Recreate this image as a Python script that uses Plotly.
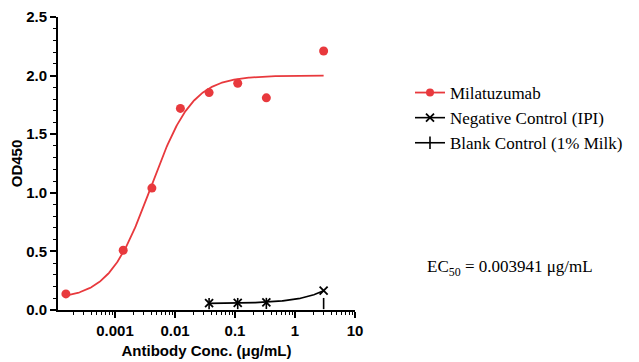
import numpy as np
import plotly.graph_objects as go

# Data (μg/mL, OD450)
mila_x = [0.000152, 0.00137, 0.00412, 0.0123, 0.037, 0.111, 0.333, 3.0]
mila_y = [0.137, 0.51, 1.04, 1.72, 1.855, 1.935, 1.81, 2.21]

neg_x = [0.037, 0.111, 0.333, 3.0]
neg_y = [0.058, 0.060, 0.065, 0.165]

blank_x = [0.037, 0.111, 0.333, 3.0]
blank_y = [0.055, 0.055, 0.056, 0.055]

# 4PL fit parameters for Milatuzumab
fit_bottom = 0.09
fit_top = 2.0
fit_ec50 = 0.003941
fit_hill = 1.25

RED = "#e8393d"
SERIF = "Liberation Serif, Times New Roman, serif"
SANS = "Liberation Sans, Arial, sans-serif"

def fourpl(x):
    x = np.asarray(x)
    return fit_bottom + (fit_top - fit_bottom) / (1 + (fit_ec50 / x) ** fit_hill)

cx = np.logspace(np.log10(min(mila_x)), np.log10(max(mila_x)), 300)
cy = fourpl(cx)

# simple linear fit for negative control
pn = np.polyfit(neg_x, neg_y, 1)
nx = np.logspace(np.log10(min(neg_x)), np.log10(max(neg_x)), 200)
ny = np.polyval(pn, nx)

fig = go.Figure()

fig.add_trace(go.Scatter(x=nx, y=ny, mode="lines", line=dict(color="black", width=1.6),
                         showlegend=False, hoverinfo="skip"))
fig.add_trace(go.Scatter(x=cx, y=cy, mode="lines", line=dict(color=RED, width=1.8),
                         showlegend=False, hoverinfo="skip"))

fig.add_trace(go.Scatter(x=mila_x, y=mila_y, mode="markers", name="Milatuzumab", showlegend=False,
                         marker=dict(color=RED, size=9, symbol="circle")))
fig.add_trace(go.Scatter(x=neg_x, y=neg_y, mode="markers", name="Negative Control (IPI)", showlegend=False,
                         marker=dict(color="black", size=8, symbol="x-thin",
                                     line=dict(color="black", width=1.8))))
fig.add_trace(go.Scatter(x=blank_x, y=blank_y, mode="markers", name="Blank Control (1% Milk)", showlegend=False,
                         marker=dict(color="black", size=8, symbol="line-ns",
                                     line=dict(color="black", width=1.6))))

# legend entries (line + marker symbol)
fig.add_trace(go.Scatter(x=[None], y=[None], mode="markers+lines", name="Milatuzumab",
                         marker=dict(color=RED, size=8, symbol="circle"),
                         line=dict(color=RED, width=1.8)))
fig.add_trace(go.Scatter(x=[None], y=[None], mode="markers+lines", name="Negative Control (IPI)",
                         marker=dict(color="black", size=8, symbol="x-thin",
                                     line=dict(color="black", width=1.8)),
                         line=dict(color="black", width=1.6)))
fig.add_trace(go.Scatter(x=[None], y=[None], mode="markers+lines", name="Blank Control (1% Milk)",
                         marker=dict(color="black", size=9, symbol="line-ns",
                                     line=dict(color="black", width=1.6)),
                         line=dict(color="black", width=1.6)))

tick_font = dict(family=SANS, size=15, color="black", weight="bold")
title_font = dict(family=SANS, size=15, color="black")

# the page body has an 8px offset; margins compensate so the plot lands in place
fig.update_layout(
    width=639, height=362,
    margin=dict(l=50, r=292, t=9, b=60),
    paper_bgcolor="white", plot_bgcolor="white",
    showlegend=True,
    legend=dict(x=(410 - 58) / 297, y=(310 - 75) / 293, xanchor="left", yanchor="top",
                font=dict(family=SERIF, size=17, color="black"),
                bgcolor="rgba(0,0,0,0)", tracegroupgap=0),
    xaxis=dict(type="log", range=[-3.95, 1.0], automargin=False,
               tickvals=[0.001, 0.01, 0.1, 1, 10],
               ticktext=["0.001", "0.01", "0.1", "1", "10"],
               ticks="outside", ticklen=6, tickwidth=1.5, tickcolor="black",
               minor=dict(ticks="outside", ticklen=3, tickwidth=1.2, tickcolor="black",
                          tickvals=[m * 10.0 ** e for e in range(-4, 1) for m in range(2, 10)]),
               showline=True, linecolor="black", linewidth=2,
               showgrid=False, zeroline=False,
               tickfont=tick_font,
               title=dict(text="<b>Antibody Conc. (μg/mL)</b>", font=title_font, standoff=7)),
    yaxis=dict(range=[0, 2.5], automargin=False, tickvals=[0, 0.5, 1.0, 1.5, 2.0, 2.5],
               ticktext=["0.0", "0.5", "1.0", "1.5", "2.0", "2.5"],
               ticks="outside", ticklen=6, tickwidth=1.5, tickcolor="black",
               minor=dict(ticks="outside", ticklen=3, tickwidth=1.2, tickcolor="black", dtick=0.1),
               showline=True, linecolor="black", linewidth=2,
               showgrid=False, zeroline=False,
               tickfont=tick_font,
               title=dict(text="<b>OD450</b>", font=title_font, standoff=2)),
)

fig.add_annotation(xref="paper", yref="paper", x=(425 - 58) / 297, y=(310 - 268) / 293,
                   xanchor="left", yanchor="middle", showarrow=False,
                   text="EC<sub>50</sub> = 0.003941 μg/mL",
                   font=dict(family=SERIF, size=17, color="black"))

fig.write_html("out.html")
